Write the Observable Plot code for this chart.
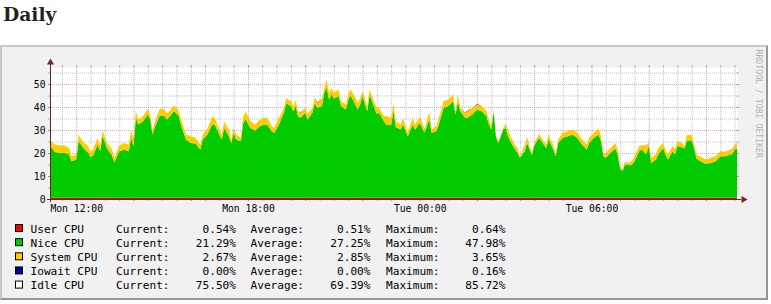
<!DOCTYPE html>
<html><head><meta charset="utf-8">
<script src="https://cdn.jsdelivr.net/npm/d3@7"></script>
<script src="https://cdn.jsdelivr.net/npm/@observablehq/plot@0.6"></script>
<style>
html,body{margin:0;padding:0;background:#fff;}
body{width:771px;height:304px;overflow:hidden;position:relative;}
#title{position:absolute;left:3px;top:5px;margin:0;font:bold 18.72px "DejaVu Serif",serif;line-height:19px;color:#222;}
#box{position:absolute;left:0;top:45px;width:764px;height:251px;border:2px solid;border-color:#c8c8c8 #969696 #969696 #c8c8c8;background:#f1f1f1;}
#chart{position:absolute;left:0;top:45px;}
#overlay{position:absolute;left:0;top:0;pointer-events:none;}
</style></head>
<body>
<div id="title">Daily</div>
<div id="box"></div>
<div id="chart"></div>
<svg id="overlay" width="771" height="304"></svg>
<script>
// minutes since Monday 00:00
const minutes = [
665,675,685,695,705,710,720,725,735,745,
750,755,765,770,775,785,795,800,810,820,
830,835,840,845,850,860,870,875,880,885,
895,905,910,915,925,935,940,950,960,970,
980,985,995,1005,1010,1020,1025,1030,1040,1045,
1050,1055,1065,1070,1075,1085,1095,1105,1115,1120,
1130,1135,1145,1155,1160,1170,1175,1180,1185,1190,
1200,1205,1215,1220,1225,1235,1240,1245,1250,1255,
1260,1270,1275,1285,1290,1295,1305,1310,1315,1320,
1330,1335,1345,1350,1355,1365,1370,1380,1385,1390,
1400,1405,1415,1425,1430,1440,1450,1460,1465,1475,
1480,1490,1500,1510,1515,1520,1525,1535,1540,1550,
1560,1570,1580,1585,1590,1595,1600,1605,1615,1620,
1625,1630,1640,1645,1650,1660,1665,1675,1680,1690,
1695,1705,1710,1720,1725,1730,1740,1750,1760,1770,
1780,1790,1795,1805,1815,1820,1825,1830,1840,1850,
1855,1860,1865,1870,1880,1885,1890,1900,1905,1915,
1920,1925,1935,1940,1950,1955,1960,1970,1975,1980,
1990,1995,2000,2010,2015,2020,2030,2040,2050,2060,
2070,2080,2095,2100,2105];

const userCpu = [
0.5,0.5,0.5,0.5,0.5,0.5,0.5,0.5,0.5,0.5,
0.5,0.5,0.5,0.5,0.6,0.5,0.5,0.5,0.5,0.5,
0.5,0.5,0.5,0.5,0.5,0.5,0.5,0.5,0.5,0.5,
0.5,0.5,0.5,0.5,0.6,0.5,0.5,0.5,0.5,0.5,
0.5,0.5,0.5,0.5,0.5,0.5,0.5,0.5,0.5,0.5,
0.5,0.5,0.5,0.5,0.5,0.5,0.5,0.5,0.5,0.5,
0.5,0.5,0.5,0.5,0.6,0.5,0.5,0.5,0.5,0.5,
0.5,0.5,0.5,0.5,0.5,0.5,0.6,0.6,0.5,0.5,
0.5,0.5,0.5,0.5,0.5,0.5,0.5,0.5,0.5,0.5,
0.5,0.5,0.5,0.5,0.5,0.5,0.5,0.5,0.5,0.5,
0.5,0.5,0.5,0.5,0.5,0.5,0.5,0.5,0.5,0.5,
0.5,0.5,0.5,0.6,0.5,0.5,0.5,0.5,0.5,0.5,
0.5,0.5,0.5,0.5,0.5,0.5,0.5,0.5,0.5,0.5,
0.5,0.5,0.5,0.5,0.5,0.5,0.5,0.5,0.5,0.5,
0.5,0.5,0.5,0.5,0.5,0.5,0.5,0.5,0.5,0.5,
0.5,0.5,0.5,0.5,0.5,0.5,0.5,0.5,0.5,0.5,
0.5,0.5,0.5,0.5,0.5,0.5,0.5,0.5,0.5,0.5,
0.5,0.5,0.5,0.5,0.5,0.5,0.5,0.5,0.5,0.5,
0.5,0.5,0.5,0.5,0.5,0.5,0.5,0.5,0.5,0.5,
0.5,0.5,0.5,0.5,0.54];

const niceCpu = [
22.8,19.9,19.6,19.6,18.8,15.9,16.7,24.6,21.7,19.6,
17.8,18.4,23.2,20.3,26.8,21.3,18.4,15.5,20.3,21.0,
20.3,26.1,22.5,34.8,31.9,33.3,36.2,34.1,27.5,30.9,
35.8,35.5,34.1,35.2,37.7,35.5,31.5,25.4,23.9,23.6,
21.0,25.4,27.5,31.9,31.9,27.5,25.4,30.4,26.8,23.9,
28.3,25.4,24.6,32.6,34.1,30.4,29.3,31.2,31.9,31.9,
29.0,28.3,31.9,37.0,40.9,39.9,37.7,39.9,35.5,34.8,
37.0,34.1,37.0,41.3,39.1,39.9,45.7,47.9,42.8,44.9,
43.2,44.2,39.9,38.4,42.3,44.6,40.6,38.4,40.6,44.2,
37.7,44.9,39.1,36.5,37.0,33.3,31.9,31.6,37.7,30.7,
29.7,31.9,26.8,31.9,29.7,32.6,28.3,34.1,28.3,29.0,
31.9,39.1,39.9,42.0,36.2,42.0,37.7,34.8,34.8,36.2,
38.4,37.7,35.5,31.9,29.7,37.4,26.1,23.9,29.7,30.4,
26.8,24.6,21.0,19.6,17.4,20.3,23.9,18.6,22.5,26.1,
24.6,21.7,25.4,21.0,18.1,23.9,26.1,26.8,27.5,26.1,
23.2,21.0,23.9,26.1,27.5,24.6,18.1,17.4,19.6,21.5,
18.8,12.8,11.6,14.5,14.2,14.5,15.9,20.3,21.0,19.1,
22.5,15.2,16.7,18.8,21.7,18.8,16.7,20.3,18.8,22.5,
22.0,21.5,24.9,24.9,21.7,17.1,15.7,14.8,15.2,15.9,
18.1,18.1,19.1,21.0,21.29];

const systemCpu = [
2.3,3.3,3.2,3.2,2.9,2.2,2.1,2.7,2.5,2.9,
2.1,2.6,2.9,2.5,2.2,2.6,2.6,1.9,2.5,2.9,
2.9,3.3,2.9,2.9,2.2,2.2,2.5,2.1,1.5,2.0,
2.9,2.9,2.6,2.5,2.5,2.2,2.6,2.1,2.9,2.5,
2.2,2.1,2.5,3.6,2.9,2.2,2.1,2.7,2.9,1.5,
2.1,2.1,1.5,2.9,3.3,2.9,2.6,2.9,2.9,2.9,
2.2,2.1,2.9,2.1,2.3,2.1,2.2,2.4,2.2,2.2,
2.1,2.4,2.1,2.5,2.2,3.3,2.1,3.6,2.9,2.9,
2.5,2.9,2.1,2.2,2.6,2.5,2.9,2.9,2.6,2.2,
2.2,2.2,2.2,2.6,2.1,2.2,3.6,3.2,3.2,2.6,
2.2,2.6,1.5,2.9,2.2,2.5,1.4,3.3,1.4,2.2,
2.9,2.9,2.9,2.9,1.2,2.9,1.4,2.2,2.9,2.9,
2.2,2.2,2.2,2.2,1.5,1.0,0.7,0.7,0.7,1.8,
2.5,2.2,1.5,2.1,0.7,2.2,2.2,0.8,1.4,1.7,
1.5,1.5,2.1,1.5,1.0,1.5,2.2,2.2,2.2,2.2,
2.2,2.2,2.2,2.2,2.7,2.2,0.7,2.2,2.1,2.4,
2.2,1.0,0.7,1.2,1.0,1.7,2.2,2.2,1.9,3.4,
1.4,2.2,2.1,2.9,2.2,2.2,2.1,2.2,2.2,2.1,
1.9,1.0,2.4,2.4,1.5,1.7,2.0,1.9,2.2,2.2,
2.2,1.9,1.9,2.2,2.67];

// sparse iowait readings (minute, value)
const iowaitMinutes = [840,885,1190,1225,1450,1535,1540,1560,1585,1600,1605,1625,1640,1660,1665,1720,1825,1875,1915,2095];
const iowaitValues  = [0.16,0.15,0.12,0.15,0.12,0.15,0.14,0.16,0.12,0.15,0.13,0.14,0.12,0.15,0.14,0.12,0.16,0.13,0.15,0.12];

const seriesNames  = ["User CPU","Nice CPU","System CPU","Iowait CPU","Idle CPU"];
const seriesColors = ["#FF0000","#00CC00","#FFCC00","#000099","#FFFFFF"];
const currentVals  = ["0.54%","21.29%","2.67%","0.00%","75.50%"];
const averageVals  = ["0.51%","27.25%","2.85%","0.00%","69.39%"];
const maximumVals  = ["0.64%","47.98%","3.65%","0.16%","85.72%"];

const yLabelTicks = [0,10,20,30,40,50];
const yMinorTicks = [5,15,25,35,45,55];
const xLabelMinutes = [720,1080,1440,1800];
const xLabels = ["Mon 12:00","Mon 18:00","Tue 00:00","Tue 06:00"];
const watermark = "RRDTOOL / TOBI OETIKER";

// ---- build table ----
const day0 = Date.UTC(2024,0,1); // a Monday
const t = m => new Date(day0 + m*60000);
const xDomain = [t(665), t(2105)];
const yMax = 57.4;
const iowaitMap = new Map(iowaitMinutes.map((m,i)=>[m, iowaitValues[i]]));
const rows = [];
minutes.forEach((m,i)=>{
  const time = t(m);
  rows.push({time, series:"User CPU", value:userCpu[i]});
  rows.push({time, series:"Nice CPU", value:niceCpu[i]});
  rows.push({time, series:"System CPU", value:systemCpu[i]});
  rows.push({time, series:"Iowait CPU", value:iowaitMap.get(m) ?? 0});
});
const stacked = seriesNames.slice(0,4);

const xMinor = d3.utcMinute.every(30).range(xDomain[0], xDomain[1]).filter(d => d.getUTCMinutes() === 30 || d.getUTCHours() % 2 === 1);
const xMajor = d3.utcHour.every(2).range(xDomain[0], xDomain[1]);
const labelMap = new Map(xLabelMinutes.map((m,i)=>[+t(m), xLabels[i]]));

const GRID = "#8c8c8c", MGRID = "#a83030", AXIS = "#5a2a20", ARROW = "#7f1f1f";
const mono = "DejaVu Sans Mono, monospace";

const grid = (op) => [
  Plot.ruleY(yMinorTicks, {stroke: GRID, strokeOpacity: 0.42*op, strokeDasharray:"1,1"}),
  Plot.ruleX(xMinor, {stroke: GRID, strokeOpacity: 0.42*op, strokeDasharray:"1,1"}),
  Plot.ruleY(yLabelTicks.filter(d=>d>0), {stroke: MGRID, strokeOpacity: 0.32*op, strokeDasharray:"1,1"}),
  Plot.ruleX(xMajor, {stroke: MGRID, strokeOpacity: 0.32*op, strokeDasharray:"1,1"})
];

const chart = Plot.plot({
  width: 771, height: 175,
  marginLeft: 50, marginRight: 34, marginTop: 22, marginBottom: 21,
  style: {background:"transparent", overflow:"visible", fontFamily: mono, fontSize:"9.72px", color:"#000"},
  x: {type:"utc", domain: xDomain, axis: null},
  y: {domain:[0, yMax], axis: null},
  color: {domain: seriesNames, range: seriesColors},
  marks: [
    Plot.frame({fill:"white", stroke:"none"}),
    grid(1),
    Plot.areaY(rows, {x:"time", y:"value", fill:"series", z:"series", order: stacked, curve:"linear"}),
    grid(0.35),
    // small ticks outside canvas
    Plot.ruleY(yMinorTicks, {x1: xDomain[0], x2: xDomain[0], insetLeft: -2, stroke: GRID, strokeOpacity: 0.7}),
    Plot.ruleY(yMinorTicks, {x1: xDomain[1], x2: xDomain[1], insetRight: -2, stroke: GRID, strokeOpacity: 0.7}),
    Plot.ruleY(yLabelTicks, {x1: xDomain[0], x2: xDomain[0], insetLeft: -2, stroke: MGRID, strokeOpacity: 0.6}),
    Plot.ruleY(yLabelTicks, {x1: xDomain[1], x2: xDomain[1], insetRight: -2, stroke: MGRID, strokeOpacity: 0.6}),
    Plot.ruleX(xMinor, {y1: 0, y2: 0, insetBottom: -2, stroke: GRID, strokeOpacity: 0.7}),
    Plot.ruleX(xMajor, {y1: 0, y2: 0, insetBottom: -2, stroke: MGRID, strokeOpacity: 0.6}),
    Plot.ruleX(xMinor, {y1: yMax, y2: yMax, insetTop: -2, stroke: GRID, strokeOpacity: 0.7}),
    Plot.ruleX(xMajor, {y1: yMax, y2: yMax, insetTop: -2, stroke: MGRID, strokeOpacity: 0.6}),
    // axis lines and arrows
    Plot.ruleY([0], {stroke: AXIS, insetLeft: -3, insetRight: -4}),
    Plot.ruleX([xDomain[0]], {stroke: AXIS, insetTop: -3, insetBottom: -3}),
    Plot.dot([0], {x: () => xDomain[1], y: () => 0, symbol: "triangle", r: 2.6, fill: ARROW, stroke: "none", rotate: 90, dx: 6}),
    Plot.dot([0], {x: () => xDomain[0], y: () => yMax, symbol: "triangle", r: 2.6, fill: ARROW, stroke: "none", dy: -5}),
    // labels
    Plot.axisY({ticks: yLabelTicks, tickSize: 0, tickPadding: 5, tickFormat: d => String(d), label: null, fontSize: 9.72, fontFamily: mono, fill: "#000"}),
    Plot.axisX({ticks: xLabelMinutes.map(t), tickSize: 0, tickPadding: 5.5, tickFormat: d => labelMap.get(+d), label: null, fontSize: 9.72, fontFamily: mono, fill: "#000"})
  ]
});
document.getElementById("chart").appendChild(chart);

// ---- legend & watermark ----
const ov = d3.select("#overlay");
const base0 = 232.7, step = 14.15;
seriesNames.forEach((name,i)=>{
  const yb = base0 + i*step;
  ov.append("rect").attr("x",15.5).attr("y",yb-8.2).attr("width",7).attr("height",7)
    .attr("fill",seriesColors[i]).attr("stroke","#000").attr("stroke-width",1);
  const txt = (x, s, anchor) => ov.append("text").attr("x",x).attr("y",yb)
    .attr("text-anchor",anchor).attr("font-family",mono).attr("font-size","11.11px").attr("fill","#000")
    .style("white-space","pre").text(s);
  txt(30.5, name, "start");
  txt(116, "Current:", "start");
  txt(236, currentVals[i], "end");
  txt(250.5, "Average:", "start");
  txt(370.5, averageVals[i], "end");
  txt(386, "Maximum:", "start");
  txt(505.5, maximumVals[i], "end");
});
ov.append("text").attr("transform","translate(759,49.5) rotate(90)")
  .attr("dominant-baseline","central").attr("font-family",mono).attr("font-size","8.2px")
  .attr("fill","#b4b4b4").text(watermark);
</script>
</body></html>
